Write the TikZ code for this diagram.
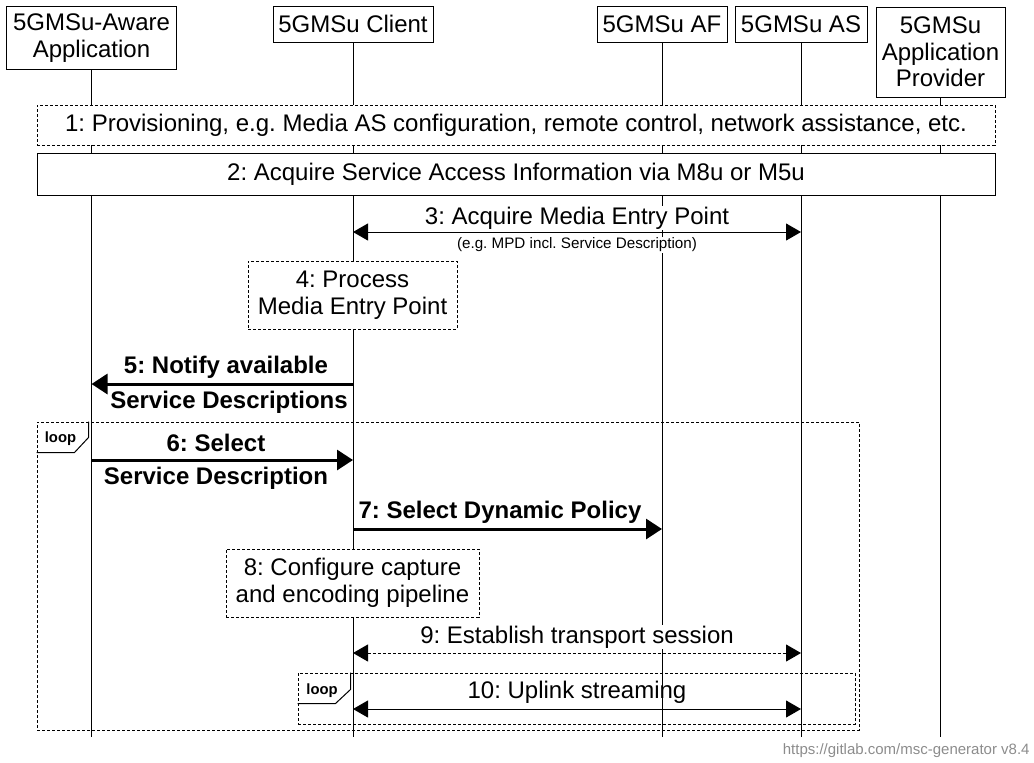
\documentclass[tikz,border=0pt]{standalone}
\usepackage{fontspec}
\setmainfont{Liberation Sans}
\usetikzlibrary{positioning,arrows.meta}
\frenchspacing

\begin{document}
\begin{tikzpicture}[x=0.5pt,y=-0.5pt, every node/.style={align=center},
  actor/.style={draw, line width=0.5pt, fill=white, inner sep=0pt, font=\fontsize{12}{13.3}\selectfont},
  life/.style={line width=0.5pt},
  note/.style={draw, line width=0.5pt, fill=white, inner sep=0pt, font=\fontsize{12}{13.5}\selectfont},
  dnote/.style={note, dash pattern=on 1.5pt off 1pt},
  lbl/.style={fill=white, inner sep=0.5pt, font=\fontsize{12}{13.5}\selectfont},
  blbl/.style={inner sep=0.5pt, font=\fontsize{12}{13.5}\selectfont\bfseries},
  small/.style={fill=white, inner sep=0.5pt, font=\fontsize{7.6}{9}\selectfont},
  frame/.style={draw, line width=0.5pt, dash pattern=on 1.5pt off 1pt, inner sep=0pt},
  tag/.style={inner sep=0pt, font=\fontsize{7.4}{9}\selectfont\bfseries},
  msg/.style={line width=0.5pt, {Triangle[length=7.5pt,width=8.5pt]}-{Triangle[length=7.5pt,width=8.5pt]}},
  bmsg/.style={line width=1.5pt, -{Triangle[length=8pt,width=10pt]}}]
  \useasboundingbox (0,0) rectangle (1034,762);

  \node[actor, minimum width=85pt, minimum height=31.5pt] (app) at (91.5,38) {5GMSu-Aware\\Application};
  \node[actor, minimum width=80pt, minimum height=18pt] (client) at (353,24) {5GMSu Client};
  \node[actor, minimum width=65pt, minimum height=18pt] (af) at (662,24) {5GMSu AF};
  \node[actor, minimum width=66pt, minimum height=18pt] (as) at (801,24) {5GMSu AS};
  \node[actor, minimum width=64.5pt, minimum height=45pt] (prov) at (940.5,52) {5GMSu\\Application\\Provider};

  \coordinate (bottom) at (0,737);
  \foreach \n in {app,client,af,as,prov}
    \draw[life] (\n.south) -- (\n.south |- bottom);

  \node[dnote, minimum width=479pt, minimum height=20pt] (prv) at (516,125)
    {1: Provisioning, e.g. Media AS configuration, remote control, network assistance, etc.};
  \node[note, minimum width=479pt, minimum height=21pt] (sai) at (516,174)
    {2: Acquire Service Access Information via M8u or M5u};

  \node[lbl] (l3) at (577,218) {3: Acquire Media Entry Point};
  \node[small] (n3) at (577,245) {(e.g. MPD incl. Service Description)};
  \coordinate (m3) at (0,232);
  \draw[msg] (client.south |- m3) -- (as.south |- m3);

  \node[dnote, minimum width=104.5pt, minimum height=34pt] (proc) at (352.5,295) {4: Process\\Media Entry Point};

  \node[blbl] (l5a) at (226,367) {5: Notify available};
  \node[blbl] (l5b) at (229,402) {Service Descriptions};
  \coordinate (m5) at (0,384);
  \draw[bmsg] (client.south |- m5) -- (app.south |- m5);

  \node[frame, minimum width=411pt, minimum height=154pt] (loopa) at (448,576) {};
  \draw[line width=0.5pt] (loopa.north west) ++(0,31) -- ++(38,0) -- ++(14,-15) -- ++(0,-16);
  \node[tag] (ta) at (60.5,439) {loop};

  \node[blbl] (l6a) at (216,443) {6: Select};
  \node[blbl] (l6b) at (216,478) {Service Description};
  \coordinate (m6) at (0,460);
  \draw[bmsg] (app.south |- m6) -- (client.south |- m6);

  \node[blbl] (l7) at (500,512) {7: Select Dynamic Policy};
  \coordinate (m7) at (0,529);
  \draw[bmsg] (client.south |- m7) -- (af.south |- m7);

  \node[dnote, minimum width=126.5pt, minimum height=34pt] (conf) at (352.5,583) {8: Configure capture\\and encoding pipeline};

  \node[lbl] (l9) at (577,637) {9: Establish transport session};
  \coordinate (m9) at (0,653);
  \draw[msg, dash pattern=on 1.5pt off 1pt] (client.south |- m9) -- (as.south |- m9);

  \node[frame, minimum width=278.5pt, minimum height=25.5pt] (loopb) at (576.5,698.5) {};
  \draw[line width=0.5pt] (loopb.north west) ++(0,31) -- ++(38,0) -- ++(15,-14) -- ++(0,-17);
  \node[tag] (tb) at (322,691) {loop};

  \node[inner sep=0.5pt, font=\fontsize{12}{13.5}\selectfont] (l10) at (577,692) {10: Uplink streaming};
  \coordinate (m10) at (0,709);
  \draw[msg] (client.south |- m10) -- (as.south |- m10);

  \node[anchor=east, inner sep=0pt, text=black!45, font=\fontsize{7.5}{9}\selectfont] (wm) at (1030,751)
    {https://gitlab.com/msc-generator v8.4};
\end{tikzpicture}
\end{document}
